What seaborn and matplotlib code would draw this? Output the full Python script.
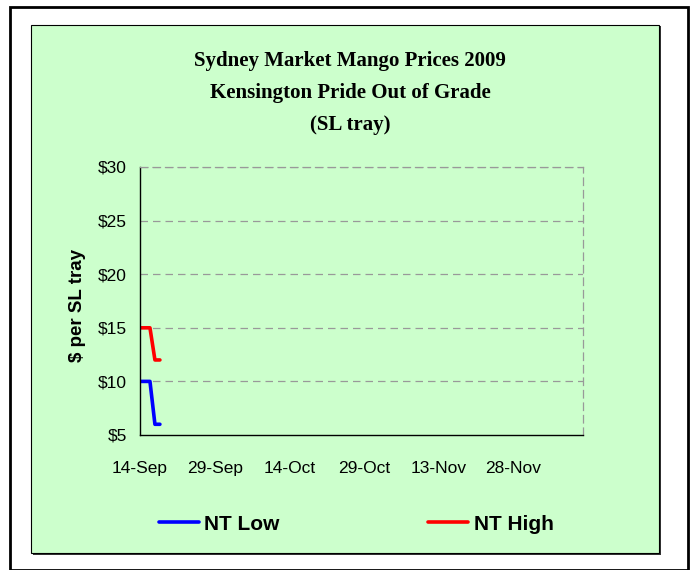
import pandas as pd
import matplotlib.pyplot as plt
import matplotlib.dates as mdates
import seaborn as sns
from matplotlib.patches import Rectangle

# data
dates = ['2009-09-14', '2009-09-16', '2009-09-17', '2009-09-18']
nt_low = [10, 10, 6, 6]
nt_high = [15, 15, 12, 12]
tick_dates = ['2009-09-14', '2009-09-29', '2009-10-14', '2009-10-29', '2009-11-13', '2009-11-28']
y_ticks = [5, 10, 15, 20, 25, 30]
title_lines = ['Sydney Market Mango Prices 2009', 'Kensington Pride Out of Grade', '(SL tray)']

df = pd.DataFrame({
    'date': pd.to_datetime(dates * 2),
    'price': nt_low + nt_high,
    'series': ['NT Low'] * len(nt_low) + ['NT High'] * len(nt_high),
})

sns.set_style('white')
plt.rcParams['font.family'] = ['Liberation Sans', 'DejaVu Sans']
plt.rcParams['text.color'] = 'black'
plt.rcParams['axes.labelcolor'] = 'black'
plt.rcParams['xtick.color'] = 'black'
plt.rcParams['ytick.color'] = 'black'

green = '#CCFFCC'
fig = plt.figure(figsize=(6.92, 5.70), dpi=100)
fig.patch.set_facecolor('white')

# outer frame and green panel (drawn under the axes)
fig.patches.append(Rectangle((10 / 692, 0), 678 / 692, 563 / 570, transform=fig.transFigure,
                             fill=False, edgecolor='black', linewidth=2, zorder=-10))
fig.patches.append(Rectangle((33 / 692, 15 / 570), 628 / 692, 529 / 570, transform=fig.transFigure,
                             facecolor='#333333', edgecolor='none', zorder=-10))
fig.patches.append(Rectangle((31 / 692, 17 / 570), 628 / 692, 528 / 570, transform=fig.transFigure,
                             facecolor=green, edgecolor='black', linewidth=0.8, zorder=-9))

ax = fig.add_axes([140 / 692, 1 - 435 / 570, 443 / 692, 268 / 570])
ax.set_facecolor(green)

sns.lineplot(data=df, x='date', y='price', hue='series',
             palette={'NT Low': '#0000FF', 'NT High': '#FF0000'},
             linewidth=2.6, ax=ax)

ax.set_xlim(pd.Timestamp('2009-09-14'), pd.Timestamp('2009-12-12'))
ax.set_ylim(5, 30)
ax.set_yticks(y_ticks)
ax.set_yticklabels([f'${v}' for v in y_ticks])
ax.set_xticks(pd.to_datetime(tick_dates))
ax.xaxis.set_major_formatter(mdates.DateFormatter('%d-%b'))
ax.tick_params(axis='both', labelsize=12.5, direction='out', length=3.5, width=0.8, color='black')
ax.tick_params(axis='y', pad=6)
ax.tick_params(axis='x', pad=15)

for y in y_ticks[1:]:
    ax.axhline(y, color='#999999', linestyle=(0, (6, 4)), linewidth=0.9, zorder=0)
ax.spines['left'].set_color('black')
ax.spines['bottom'].set_color('black')
ax.spines['left'].set_linewidth(1)
ax.spines['bottom'].set_linewidth(1)
for side in ['top', 'right']:
    ax.spines[side].set_color('#999999')
    ax.spines[side].set_linestyle((0, (6, 4)))
    ax.spines[side].set_linewidth(0.9)

ax.set_xlabel('')
ax.set_ylabel('$ per SL tray', fontsize=13.5, fontweight='bold')
ax.yaxis.set_label_coords(-0.122, 0.485)

for line, ypix in zip(title_lines, [61, 93, 125]):
    fig.text(350 / 692, 1 - ypix / 570, line, ha='center', va='center',
             fontsize=15, fontweight='bold', family='Liberation Serif')

ax.legend(title=None, loc='center', bbox_to_anchor=(356 / 692, 1 - 524 / 570),
          bbox_transform=fig.transFigure, ncol=2, frameon=False,
          prop={'weight': 'bold', 'size': 15}, handlelength=1.95, handletextpad=0.25,
          columnspacing=7.1)

fig.savefig('out.png', dpi=100, facecolor='white')
